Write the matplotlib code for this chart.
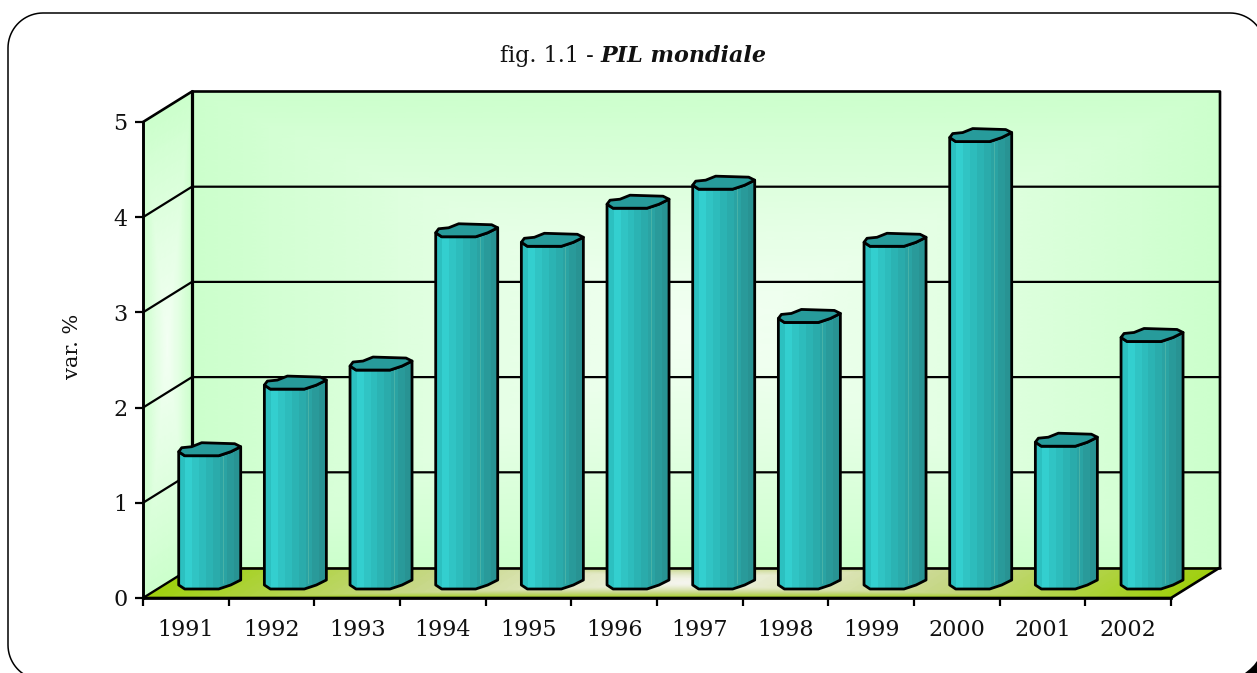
import matplotlib
matplotlib.use("agg")
import matplotlib.pyplot as plt
import numpy as np
from matplotlib.colors import LinearSegmentedColormap
from matplotlib.lines import Line2D
from matplotlib.patches import Polygon
from matplotlib.transforms import IdentityTransform

years = ["1991", "1992", "1993", "1994", "1995", "1996", "1997", "1998", "1999", "2000", "2001", "2002"]
pil = [1.4, 2.1, 2.3, 3.7, 3.6, 4.0, 4.2, 2.8, 3.6, 4.7, 1.5, 2.6]
yticks = [0, 1, 2, 3, 4, 5]

W, H = 1257, 673
LEFT, RIGHT, TOP, BOTTOM = 143, 1171, 122, 598
PX_X = (RIGHT - LEFT) / 12
PX_Y = (BOTTOM - TOP) / 5
DX = 49 / PX_X  # depth of the box, data units
DY = 30.5 / PX_Y

FONT = "DejaVu Serif"
WALL = LinearSegmentedColormap.from_list("wall", ["#f4fff4", "#e2ffe2", "#ccffcc"])
FLOOR = LinearSegmentedColormap.from_list("floor", ["#f6f6f0", "#c8d88a", "#a0d010"])
STRIPS = ["#2cc0c0", "#33cfcf", "#30c4c4", "#2dbcbc", "#2bb3b3", "#2aabab", "#2aa3a3", "#299a9a", "#289393"]

fig = plt.figure(figsize=(W / 100, H / 100), dpi=100)
ax = fig.add_axes([LEFT / W, 1 - BOTTOM / H, (RIGHT - LEFT) / W, (BOTTOM - TOP) / H])
ax.patch.set_visible(False)
ax.set_xlim(-0.5, 11.5)
ax.set_ylim(0, 5)


def surface(origin, du, dv, cmap, zorder, floor=False):
    u, v = np.meshgrid(np.linspace(0, 1, 41), np.linspace(0, 1, 41))
    x = origin[0] + u * du[0] + v * dv[0]
    y = origin[1] + u * du[1] + v * dv[1]
    cv = np.abs(2 * v - 1)
    if floor:
        # white band through the middle, olive at the back, green at the front
        cv = np.where(v > 0.5, 0.55 * cv ** 2, cv ** 1.4)
    c = np.maximum(np.abs(2 * u - 1), cv)
    m = ax.pcolormesh(x, y, c, cmap=cmap, vmin=0, vmax=1, shading="gouraud", zorder=zorder)
    m.set_clip_on(False)


# box: back wall, side wall, floor
surface((-0.5 + DX, DY), (12, 0), (0, 5), WALL, 1)
surface((-0.5, 0), (DX, DY), (0, 5), WALL, 1)
surface((-0.5, 0), (12, 0), (DX, DY), FLOOR, 1, floor=True)

line = dict(color="black", solid_capstyle="round", clip_on=False)
for t in yticks[1:-1]:
    ax.plot([-0.5, -0.5 + DX, 11.5 + DX], [t, t + DY, t + DY], lw=1.6, zorder=2, **line)
ax.plot([-0.5, -0.5 + DX, 11.5 + DX, 11.5 + DX, 11.5, -0.5], [5, 5 + DY, 5 + DY, DY, 0, 0], lw=1.9, zorder=2, **line)
ax.plot([-0.5 + DX, -0.5 + DX], [5 + DY, DY], lw=2.3, zorder=2, **line)
ax.plot([-0.5 + DX, 11.5 + DX], [DY, DY], lw=1.9, zorder=2, **line)
ax.plot([-0.5, -0.5 + DX], [0, DY], lw=1.7, zorder=2, **line)

# column outline, pixels from the left edge and the front edge
front = np.array([[0, 4], [6, 0], [40, 0], [52, 4], [62, 9]])
back = np.array([[56, 12], [23, 13], [13, 9], [3, 8]])
BAR_W = 62 / PX_X
BAR_X = 35.7 / PX_X - 0.5
BASE = 9 / PX_Y


def shape(pts, x0, y0):
    return np.column_stack([x0 + pts[:, 0] / PX_X, y0 + pts[:, 1] / PX_Y])


for i, v in enumerate(pil):
    x0 = i + BAR_X
    top = BASE + v
    body = np.vstack([shape(front, x0, BASE), shape(front, x0, top)[::-1]])
    n = len(STRIPS)
    bars = ax.bar([x0 + BAR_W * (k + 0.5) / n for k in range(n)], [v + 0.3] * n, BAR_W / n * 1.05,
                  bottom=BASE - 0.05, color=STRIPS, zorder=3)
    clip = Polygon(body, closed=True, transform=ax.transData)
    for b in bars:
        b.set_clip_box(None)
        b.set_clip_path(clip)
    # faint highlight on the dark side
    ax.plot([x0 + BAR_W * 0.71] * 2, [BASE + 0.06, top], color="#4fb5a8", lw=0.6, zorder=4, clip_on=False)
    ax.add_patch(Polygon(body, closed=True, fc="none", ec="black", lw=2.0, zorder=5, clip_on=False, joinstyle="round"))
    cap = np.vstack([shape(front, x0, top), shape(back, x0, top)])
    ax.add_patch(Polygon(cap, closed=True, fc="#279b9b", ec="black", lw=2.0, zorder=6, clip_on=False, joinstyle="round"))

for s in ["top", "right"]:
    ax.spines[s].set_visible(False)
ax.spines["left"].set_linewidth(2.1)
ax.spines["bottom"].set_linewidth(1.9)
ax.spines["left"].set_zorder(7)
ax.spines["bottom"].set_zorder(7)

ax.set_yticks(yticks)
ax.set_xticks(np.arange(-0.5, 12, 1))
ax.set_xticklabels([])
ax.set_xticks(np.arange(12), labels=years, minor=True)
ax.tick_params(axis="both", which="major", length=6, width=1.6, labelsize=16, pad=5)
ax.tick_params(axis="x", which="minor", length=0, labelsize=16, pad=15)
for t in ax.get_yticklabels() + ax.get_xticklabels(minor=True):
    t.set_fontfamily(FONT)
    t.set_color("#111111")

fig.text(73 / W, 1 - 346 / H, "var. %", rotation=90, ha="center", va="center", family=FONT, fontsize=15, color="#111111")

t1 = fig.text(500 / W, 1 - 56 / H, "fig. 1.1 - ", ha="left", va="center", family=FONT, fontsize=16, color="#111111")
ax.annotate("PIL mondiale", xy=(1, 0), xycoords=t1, ha="left", va="bottom", family=FONT, fontsize=16,
            fontstyle="italic", fontweight="bold", color="#111111", annotation_clip=False)

# rounded frame runs off the right and bottom of the page, dark corner behind it
px = IdentityTransform()
fig.add_artist(Polygon([[1245, 0], [1250, 4], [1254, 8], [1257, 12], [1257, 0]], closed=True, fc="black", ec="none", transform=px))
r, x_a, x_b, y_a, y_b = 35, 8, 1265, H - 680, H - 13
fx, fy = [], []
for cx, cy, a0 in [(x_b - r, y_b - r, 0), (x_a + r, y_b - r, 90), (x_a + r, y_a + r, 180), (x_b - r, y_a + r, 270)]:
    a = np.radians(a0 + np.linspace(0, 90, 20))
    fx.extend(cx + r * np.cos(a))
    fy.extend(cy + r * np.sin(a))
fig.add_artist(Line2D(fx + fx[:1], fy + fy[:1], color="black", lw=1.1, transform=px))

fig.savefig("out.png", dpi=100)
